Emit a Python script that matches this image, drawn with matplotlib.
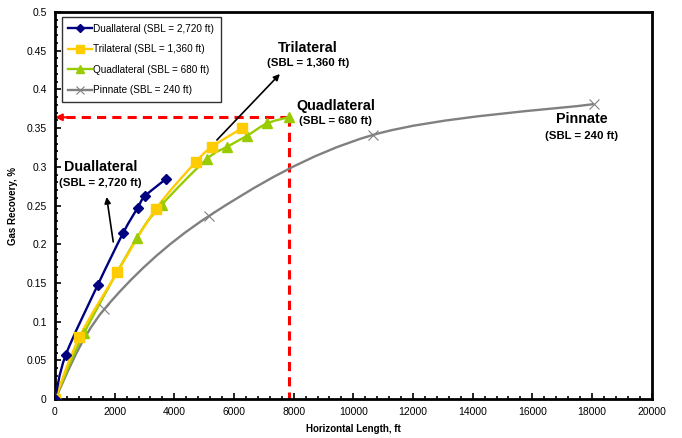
import numpy as np
import matplotlib.pyplot as plt
from matplotlib.path import Path
from matplotlib.patches import PathPatch
from matplotlib.lines import Line2D
from matplotlib.ticker import MultipleLocator

plt.rcParams['font.family'] = ['Liberation Sans', 'DejaVu Sans']

# horizontal length (ft) vs gas recovery (%)
dual_x = [0, 358, 1430, 2278, 2770, 3015, 3708]
dual_y = [0, 0.0565, 0.147, 0.214, 0.247, 0.262, 0.284]

tri_x = [0, 815, 2088, 3373, 4713, 5270, 6276]
tri_y = [0, 0.0797, 0.164, 0.245, 0.306, 0.326, 0.350]

quad_x = [0, 983, 2736, 3573, 5092, 5774, 6432, 7102, 7828]
quad_y = [0, 0.0857, 0.2076, 0.2506, 0.310, 0.326, 0.340, 0.356, 0.364]

pin_x = [0, 1652, 5159, 10643, 18057]
pin_y = [0, 0.116, 0.2364, 0.341, 0.381]

labels = ['Duallateral (SBL = 2,720 ft)', 'Trilateral (SBL = 1,360 ft)',
          'Quadlateral (SBL = 680 ft)', 'Pinnate (SBL = 240 ft)']


def smooth_path(xs, ys):
    # bezier smoothing through the points, like a spreadsheet smoothed line
    p = np.column_stack([xs, ys]).astype(float)
    n = len(p)
    verts = [p[0]]
    codes = [Path.MOVETO]
    for i in range(n - 1):
        p0 = p[i - 1] if i > 0 else p[i]
        p3 = p[i + 2] if i + 2 < n else p[i + 1]
        c1 = p[i] + (p[i + 1] - p0) / 6.0
        c2 = p[i + 1] - (p3 - p[i]) / 6.0
        verts += [c1, c2, p[i + 1]]
        codes += [Path.CURVE4] * 3
    return Path(verts, codes)


fig = plt.figure(figsize=(6.82, 4.38), dpi=100)
ax = fig.add_axes([0.0806, 0.089, 0.875, 0.8836])

series = [
    (pin_x, pin_y, '#808080', 'x', 7, 1.7),
    (quad_x, quad_y, '#99CC00', '^', 7, 1.7),
    (tri_x, tri_y, '#FFCC00', 's', 7, 1.7),
    (dual_x, dual_y, '#000080', 'D', 5, 1.7),
]
for xs, ys, col, mk, ms, lw in series:
    ax.add_patch(PathPatch(smooth_path(xs, ys), facecolor='none', edgecolor=col, lw=lw, zorder=3))
    if mk == 'x':
        ax.plot(xs, ys, linestyle='none', marker=mk, ms=ms, mew=0.8, color=col, zorder=4)
    else:
        ax.plot(xs, ys, linestyle='none', marker=mk, ms=ms, color=col, zorder=4)

# red dashed guides to the quadlateral end point
qx, qy = quad_x[-1], quad_y[-1]
ax.plot([qx, 250], [qy, qy], linestyle=(0, (3, 2)), color='#FF0000', lw=2.2, zorder=2)
ax.plot([qx, qx], [qy, 0], linestyle=(0, (3, 2)), color='#FF0000', lw=2.2, zorder=2)
ax.annotate('', xy=(0, qy), xytext=(400, qy),
            arrowprops=dict(arrowstyle='-|>', color='#FF0000', lw=1.5,
                            mutation_scale=10, shrinkA=0, shrinkB=0), zorder=2)

# callouts
ax.annotate('', xy=(1732, 0.261), xytext=(1953, 0.203),
            arrowprops=dict(arrowstyle='-|>', color='black', lw=1.2, mutation_scale=9,
                            shrinkA=0, shrinkB=0))
ax.annotate('', xy=(7538, 0.4199), xytext=(5427, 0.3346),
            arrowprops=dict(arrowstyle='-|>', color='black', lw=1.2, mutation_scale=9,
                            shrinkA=0, shrinkB=0))

big = dict(fontsize=10.3, fontweight='bold', ha='center', va='center')
small = dict(fontsize=8.2, fontweight='bold', ha='center', va='center')
ax.text(1535, 0.2997, 'Duallateral', **big)
ax.text(1514, 0.279, '(SBL = 2,720 ft)', **small)
ax.text(8476, 0.4535, 'Trilateral', **big)
ax.text(8476, 0.434, '(SBL = 1,360 ft)', **small)
ax.text(9414, 0.379, 'Quadlateral', **big)
ax.text(9414, 0.359, '(SBL = 680 ft)', **small)
ax.text(17655, 0.3618, 'Pinnate', **big)
ax.text(17655, 0.3398, '(SBL = 240 ft)', **small)

ax.set_xlim(0, 20000)
ax.set_ylim(0, 0.5)
ax.xaxis.set_major_locator(MultipleLocator(2000))
ax.xaxis.set_minor_locator(MultipleLocator(400))
ax.yaxis.set_minor_locator(MultipleLocator(0.01))
ax.set_yticks(np.arange(0, 0.501, 0.05))
ax.set_yticklabels(['0', '0.05', '0.1', '0.15', '0.2', '0.25', '0.3', '0.35', '0.4', '0.45', '0.5'])
ax.tick_params(which='both', direction='in', labelsize=7.5, width=1.2)
ax.tick_params(which='major', length=4, pad=6)
ax.tick_params(which='minor', length=2.5)
ax.tick_params(top=False, right=False)
for s in ax.spines.values():
    s.set_linewidth(2)

ax.set_xlabel('Horizontal Length, ft', fontsize=7, fontweight='bold', labelpad=5)
ax.set_ylabel('Gas Recovery, %', fontsize=7, fontweight='bold', labelpad=6)

handles = [
    Line2D([], [], color='#000080', marker='D', ms=4, lw=1.7),
    Line2D([], [], color='#FFCC00', marker='s', ms=6, lw=1.7),
    Line2D([], [], color='#99CC00', marker='^', ms=6, lw=1.7),
    Line2D([], [], color='#808080', marker='x', ms=6, mew=0.8, lw=1.7),
]
leg = ax.legend(handles, labels, loc='upper left', bbox_to_anchor=(0.0117, 0.987),
                borderaxespad=0, fontsize=7.2, frameon=True, fancybox=False,
                edgecolor='black', handlelength=2.4, handletextpad=0.1,
                labelspacing=1.05, borderpad=0.65)
leg.get_frame().set_linewidth(1.0)

plt.savefig('out.png', dpi=100)
